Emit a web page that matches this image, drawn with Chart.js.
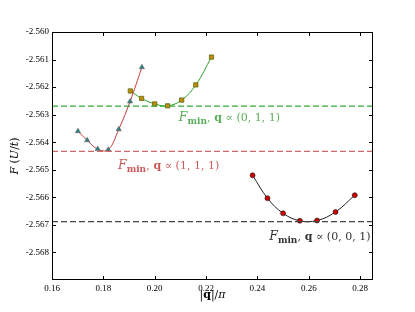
<!DOCTYPE html>
<html><head><meta charset="utf-8">
<script src="https://cdn.jsdelivr.net/npm/chart.js@4"></script>
<style>html,body{margin:0;padding:0;background:#fff}#wrap{width:415px;height:312px}</style>
</head><body><div id="wrap"><canvas id="c" width="415" height="312"></canvas></div>
<script>
// ---- data ----
const q111X = [0.1701, 0.1737, 0.1778, 0.1819, 0.1860, 0.1904, 0.1950];
const q111Y = [-2.56360, -2.56393, -2.56425, -2.56427, -2.56353, -2.56252, -2.56128];
const q011X = [0.1905, 0.1949, 0.2000, 0.2050, 0.2105, 0.2160, 0.2221];
const q011Y = [-2.56214, -2.56241, -2.56261, -2.56268, -2.56247, -2.56192, -2.56091];
const q001X = [0.2381, 0.2439, 0.2500, 0.2565, 0.2632, 0.2704, 0.2779];
const q001Y = [-2.56520, -2.56603, -2.56658, -2.56685, -2.56684, -2.56653, -2.56592];
const fmin111 = -2.56433;
const fmin011 = -2.56269;
const fmin001 = -2.56688;
const xTicks = [0.16, 0.18, 0.20, 0.22, 0.24, 0.26, 0.28];
const yTicks = [-2.560, -2.561, -2.562, -2.563, -2.564, -2.565, -2.566, -2.567, -2.568];
const xRange = [0.16, 0.285];
const yRange = [-2.569, -2.560];

const pts = (xs, ys) => xs.map((x, i) => ({x, y: ys[i]}));
const hline = (y) => [{x: xRange[0], y}, {x: xRange[1], y}];

const SERIF = '"DejaVu Serif", serif';
const TICKF = '"Liberation Serif", serif';

function drawRuns(ctx, x, y, runs, color, align) {
  let total = 0;
  runs.forEach(r => { ctx.font = r[1]; total += ctx.measureText(r[0]).width; });
  let cx = align === 'center' ? x - total / 2 : x;
  ctx.fillStyle = color;
  ctx.textBaseline = 'alphabetic';
  ctx.textAlign = 'left';
  runs.forEach(r => { ctx.font = r[1]; ctx.fillText(r[0], cx, y + (r[2] || 0)); cx += ctx.measureText(r[0]).width; });
}

function labelRuns(tuple) {
  return [
    ['F', 'italic 12.5px ' + SERIF, 0],
    ['min', 'bold 9px ' + SERIF, 3],
    [',', '11px ' + SERIF, 0],
    [' q', 'bold 11px ' + SERIF, 0],
    [' \u221D ', '11px ' + SERIF, 0],
    [tuple, '11px ' + SERIF, 0]
  ];
}

const extras = {
  id: 'extras',
  afterDraw(chart) {
    const {ctx, chartArea: a, scales: {x, y}} = chart;
    ctx.save();
    ctx.strokeStyle = '#000';
    ctx.lineWidth = 1;
    ctx.strokeRect(a.left + 0.5, a.top + 0.5, a.right - a.left - 1, a.bottom - a.top - 1);
    ctx.beginPath();
    xTicks.forEach(v => {
      const px = Math.round(x.getPixelForValue(v)) + 0.5;
      ctx.moveTo(px, a.bottom); ctx.lineTo(px, a.bottom - 4);
      ctx.moveTo(px, a.top); ctx.lineTo(px, a.top + 4);
    });
    yTicks.forEach(v => {
      const py = Math.round(y.getPixelForValue(v)) + 0.5;
      ctx.moveTo(a.left, py); ctx.lineTo(a.left + 4, py);
      ctx.moveTo(a.right, py); ctx.lineTo(a.right - 4, py);
    });
    ctx.stroke();
    drawRuns(ctx, x.getPixelForValue(0.2094), y.getPixelForValue(fmin011) + 15, labelRuns('(0, 1, 1)'), '#5aae5a');
    drawRuns(ctx, x.getPixelForValue(0.1857), y.getPixelForValue(fmin111) + 18, labelRuns('(1, 1, 1)'), '#cc5a5a');
    drawRuns(ctx, x.getPixelForValue(0.2446), y.getPixelForValue(fmin001) + 18, labelRuns('(0, 0, 1)'), '#333333');
    drawRuns(ctx, (a.left + a.right) / 2, 298, [
      ['|', '11px ' + SERIF, 0], ['q', 'bold 11px ' + SERIF, 0], ['|/', '11px ' + SERIF, 0], ['\u03C0', 'italic 11px ' + SERIF, 0]
    ], '#000', 'center');
    ctx.translate(18, (a.top + a.bottom) / 2);
    ctx.rotate(-Math.PI / 2);
    drawRuns(ctx, 0, 0, [
      ['F', 'italic 11px ' + SERIF, 0], [' (', '11px ' + SERIF, 0], ['U', 'italic 11px ' + SERIF, 0],
      ['/', '11px ' + SERIF, 0], ['t', 'italic 11px ' + SERIF, 0], [')', '11px ' + SERIF, 0]
    ], '#000', 'center');
    ctx.restore();
  }
};

const lineDs = (data, color, marker) => Object.assign({
  data, showLine: true, borderColor: color, borderWidth: 1, tension: 0.4, fill: false
}, marker);

new Chart(document.getElementById('c'), {
  type: 'scatter',
  data: {
    datasets: [
      {data: hline(fmin011), showLine: true, borderColor: '#33aa33', borderWidth: 1.2, borderDash: [6, 3], pointRadius: 0},
      {data: hline(fmin111), showLine: true, borderColor: '#cc6a6a', borderWidth: 1.2, borderDash: [6, 3], pointRadius: 0},
      {data: hline(fmin001), showLine: true, borderColor: '#444444', borderWidth: 1.2, borderDash: [6, 3], pointRadius: 0},
      lineDs(pts(q111X, q111Y), '#c83a3a', {pointStyle: 'triangle', pointRadius: 3, pointBackgroundColor: '#2a8080', pointBorderColor: '#666', pointBorderWidth: 0.6}),
      lineDs(pts(q011X, q011Y), '#2ea02e', {pointStyle: 'rect', pointRadius: 3, pointBackgroundColor: '#c88a10', pointBorderColor: '#556b00', pointBorderWidth: 0.8}),
      lineDs(pts(q001X, q001Y), '#222222', {pointStyle: 'circle', pointRadius: 2.5, pointBackgroundColor: '#cc0000', pointBorderColor: '#222', pointBorderWidth: 0.6})
    ]
  },
  options: {
    responsive: false, animation: false, devicePixelRatio: 1,
    layout: {padding: {left: 0, right: 42, top: 32, bottom: 0}},
    plugins: {legend: {display: false}, tooltip: {enabled: false}},
    scales: {
      x: {
        type: 'linear', min: xRange[0], max: xRange[1],
        grid: {display: false, drawTicks: false, tickLength: 0}, border: {display: false},
        afterBuildTicks: s => { s.ticks = xTicks.map(v => ({value: v})); },
        afterFit: s => { s.height = 32; },
        ticks: {color: '#000', padding: 3, font: {family: TICKF, size: 9}, maxRotation: 0, callback: v => v.toFixed(2)}
      },
      y: {
        type: 'linear', min: yRange[0], max: yRange[1],
        grid: {display: false, drawTicks: false, tickLength: 0}, border: {display: false},
        afterBuildTicks: s => { s.ticks = yTicks.map(v => ({value: v})); },
        afterFit: s => { s.width = 52; },
        ticks: {color: '#000', padding: 3, font: {family: TICKF, size: 9}, callback: v => v.toFixed(3)}
      }
    }
  },
  plugins: [extras]
});
</script></body></html>
